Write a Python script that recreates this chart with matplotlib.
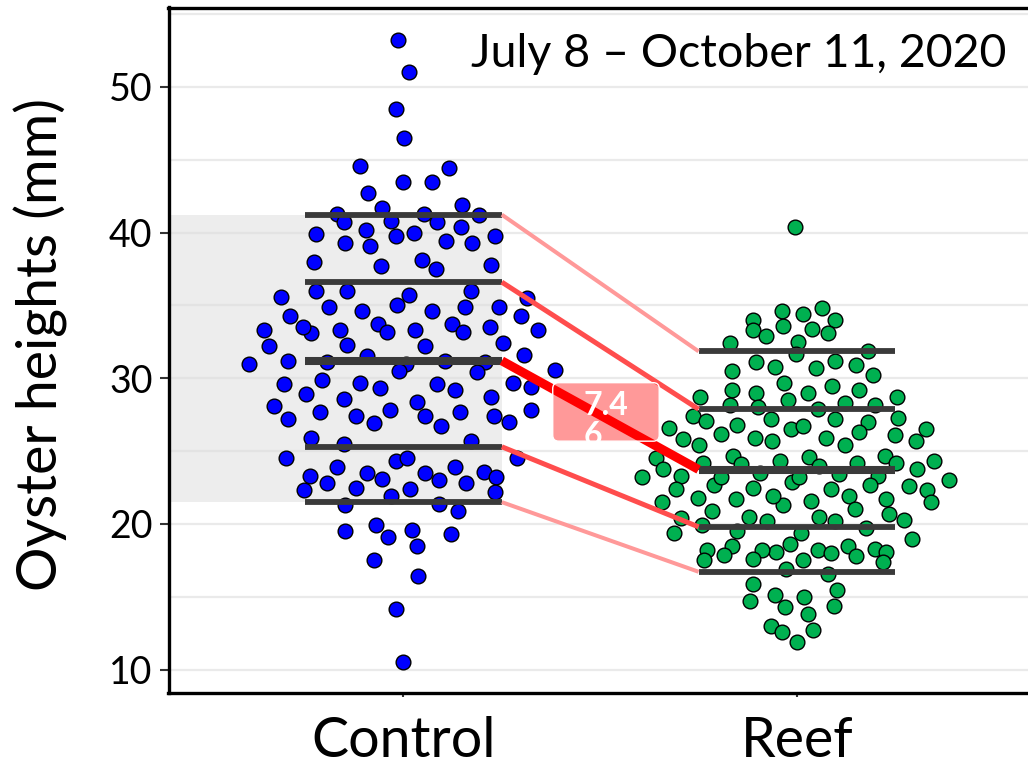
import numpy as np
import matplotlib
matplotlib.use("Agg")
import matplotlib.pyplot as plt
import matplotlib.transforms as mtransforms
from matplotlib.patches import FancyBboxPatch, Rectangle
from matplotlib.ticker import MultipleLocator

# datos (alturas en mm)
grupos = ["Control", "Reef"]
control = [53.2, 51.0, 48.5, 46.5, 44.6, 44.4, 43.5, 43.5, 42.7, 41.7,
           41.9, 41.3, 41.3, 41.2, 40.7, 40.8, 40.7, 40.4, 39.9, 40.2,
           39.8, 40.0, 39.8, 39.3, 39.1, 39.4, 39.3, 38.0, 37.7, 38.1,
           37.5, 37.8, 36.0, 36.0, 36.0, 35.6, 35.7, 35.5, 34.9, 34.9,
           35.0, 34.9, 34.6, 34.6, 34.3, 34.3, 33.5, 33.1, 33.3, 33.3,
           33.7, 33.2, 33.3, 33.7, 33.2, 33.5, 33.3, 32.2, 32.3, 32.2,
           32.4, 31.6, 31.5, 31.0, 31.2, 31.1, 31.0, 30.5, 31.2, 31.1,
           30.4, 30.6, 29.6, 29.9, 29.7, 29.3, 29.6, 29.2, 29.7, 29.4,
           28.9, 28.6, 28.4, 28.7, 28.1, 27.7, 27.4, 27.8, 27.4, 27.7,
           27.4, 27.8, 27.2, 26.9, 26.7, 27.0, 25.9, 25.5, 25.7, 24.5,
           24.3, 24.5, 24.5, 23.9, 23.5, 23.5, 23.9, 23.6, 23.3, 23.2,
           22.8, 23.1, 23.0, 22.8, 22.3, 22.5, 22.4, 22.2, 21.9, 21.3,
           21.4, 20.9, 19.5, 19.9, 19.1, 19.6, 19.3, 18.5, 17.5, 16.4,
           14.2, 10.5]
reef = [40.4, 34.6, 34.4, 34.8, 34.0, 34.0, 33.3, 33.6, 33.4, 33.1,
        32.9, 32.4, 32.5, 31.7, 31.9, 31.1, 30.8, 31.2, 30.9, 30.5,
        30.7, 30.2, 29.7, 29.5, 29.2, 29.2, 28.7, 29.0, 29.0, 28.7,
        28.2, 28.0, 28.5, 27.9, 28.3, 28.2, 27.4, 27.1, 27.2, 27.2,
        27.3, 26.6, 26.8, 26.5, 26.7, 27.0, 26.5, 25.8, 26.2, 25.9,
        25.7, 25.9, 26.3, 26.1, 25.7, 25.4, 25.4, 24.7, 24.5, 24.7,
        24.6, 24.2, 24.3, 24.1, 24.0, 24.2, 24.2, 24.3, 23.8, 23.8,
        23.3, 23.3, 23.5, 22.9, 23.2, 23.4, 22.7, 23.2, 23.2, 23.0,
        22.7, 22.4, 22.5, 22.4, 22.6, 22.3, 21.5, 21.8, 21.6, 21.9,
        21.3, 21.7, 21.9, 21.7, 21.5, 20.9, 21.0, 20.4, 20.5, 20.2,
        20.5, 20.2, 20.7, 20.3, 19.9, 19.5, 19.4, 19.7, 19.4, 19.0,
        18.5, 18.6, 18.5, 18.2, 17.9, 18.2, 18.1, 18.2, 18.0, 18.3,
        18.1, 17.5, 17.6, 17.5, 17.8, 17.4, 16.9, 16.6, 15.9, 15.5,
        15.1, 15.0, 14.7, 14.4, 14.3, 13.8, 13.0, 12.6, 12.7, 11.9]
probs = [0.1, 0.25, 0.5, 0.75, 0.9]
q_control = [21.5, 25.3, 31.2, 36.6, 41.23]
q_reef = [16.72, 19.8, 23.74, 27.88, 31.85]
titulo = "July 8 \u2013 October 11, 2020"
etiqueta_y = "Oyster heights (mm)"
yticks = [10, 20, 30, 40, 50]

colores = ["#0000FF", "#00B050"]
col_links = ["#FF9999", "#FF4D4D", "#FF0000", "#FF4D4D", "#FF9999"]
lw_links = [2.9, 3.6, 6.5, 3.6, 2.9]
lw_q = [4.2, 4.2, 5.8, 4.2, 4.2]

plt.rcParams['font.family'] = ['Lato', 'DejaVu Sans']


def van_der_corput(n, base=2):
    seq = []
    for i in range(1, n + 1):
        v, denom, k = 0.0, 1.0, i
        while k > 0:
            k, r = divmod(k, base)
            denom *= base
            v += r / denom
        seq.append(v)
    return np.array(seq)


def quasirandom(y, ancho=0.4):
    # offsets tipo geom_quasirandom (densidad * secuencia de van der Corput)
    y = np.asarray(y, dtype=float)
    n = len(y)
    iqr = np.subtract(*np.percentile(y, [75, 25]))
    bw = 0.9 * min(np.std(y, ddof=1), iqr / 1.34) * n ** -0.2
    dens = np.exp(-0.5 * ((y[:, None] - y[None, :]) / bw) ** 2).sum(axis=1)
    dens = dens / dens.max()
    rango = np.argsort(np.argsort(y, kind="stable"), kind="stable")
    vdc = van_der_corput(n)[rango]
    return (vdc - 0.5) * 2 * dens * ancho


fig = plt.figure(figsize=(10.28, 7.67), dpi=100)
ax = fig.add_axes([168.5 / 1028, (767 - 693.3) / 767, 1 - 168.5 / 1028, 685.8 / 767])

xmin, xmax = 0.403, 2.587
ax.set_xlim(xmin, xmax)
ax.set_ylim(8.38, 55.45)

# zona sombreada entre decil 1 y 9 del control
ax.add_patch(Rectangle((xmin, q_control[0]), 1.25 - xmin, q_control[-1] - q_control[0],
                       facecolor="#EDEDED", edgecolor="none", zorder=0.1))

for i, datos in enumerate([control, reef]):
    x = (i + 1) + quasirandom(datos)
    ax.scatter(x, datos, s=112, color=colores[i], edgecolors="black",
               linewidths=1.0, zorder=2)

# lineas de cuantiles
for j in range(len(probs)):
    ax.plot([0.75, 1.25], [q_control[j], q_control[j]], color="#3A3A3A",
            lw=lw_q[j], solid_capstyle="butt", zorder=3)
    ax.plot([1.75, 2.25], [q_reef[j], q_reef[j]], color="#3A3A3A",
            lw=lw_q[j], solid_capstyle="butt", zorder=3)
    ax.plot([1.25, 1.75], [q_control[j], q_reef[j]], color=col_links[j],
            lw=lw_links[j], solid_capstyle="butt", zorder=3.5)

# etiqueta de la diferencia de medianas
dif = q_control[2] - q_reef[2]
txt = "%.2f" % dif
mx, my = 1.5, (q_control[2] + q_reef[2]) / 2
trans = fig.dpi_scale_trans + mtransforms.ScaledTranslation(mx, my, ax.transData)
ax.add_patch(FancyBboxPatch((-0.475, -0.26), 1.065, 0.585,
                            boxstyle="round,pad=0,rounding_size=0.06",
                            transform=trans, facecolor=(1, 0, 0, 0.4),
                            edgecolor="white", linewidth=1.0, zorder=4))
ax.annotate(txt[:3] + "\n" + txt[3:], xy=(mx, my), xytext=(-17, 24),
            textcoords="offset pixels", ha="left", va="top", color="white",
            fontsize=23, fontweight="bold", linespacing=1.05, zorder=5)

# ejes
ax.set_yticks(yticks)
ax.yaxis.set_minor_locator(MultipleLocator(5))
ax.set_xticks([1, 2])
ax.set_xticklabels(grupos)
ax.grid(axis="y", which="both", color="#DDDDDD", alpha=0.6, lw=1.6)
ax.set_axisbelow(True)
ax.tick_params(axis="y", which="major", length=6.5, width=1.5, color="#333333",
               labelsize=27, pad=5)
ax.tick_params(axis="y", which="minor", length=0)
ax.tick_params(axis="x", length=3, width=1.5, color="#333333", labelsize=40, pad=13)
for lado in ["left", "bottom", "top"]:
    ax.spines[lado].set_linewidth(2.4)
    ax.spines[lado].set_color("black")
ax.spines["right"].set_visible(False)

ax.set_ylabel(etiqueta_y, fontsize=40)
ax.yaxis.set_label_coords(-0.1167, 0.508)

fig.text(1006 / 1028, 1 - 66.7 / 767, titulo, ha="right", va="baseline", fontsize=33.5)

plt.savefig("out.png", dpi=100)
